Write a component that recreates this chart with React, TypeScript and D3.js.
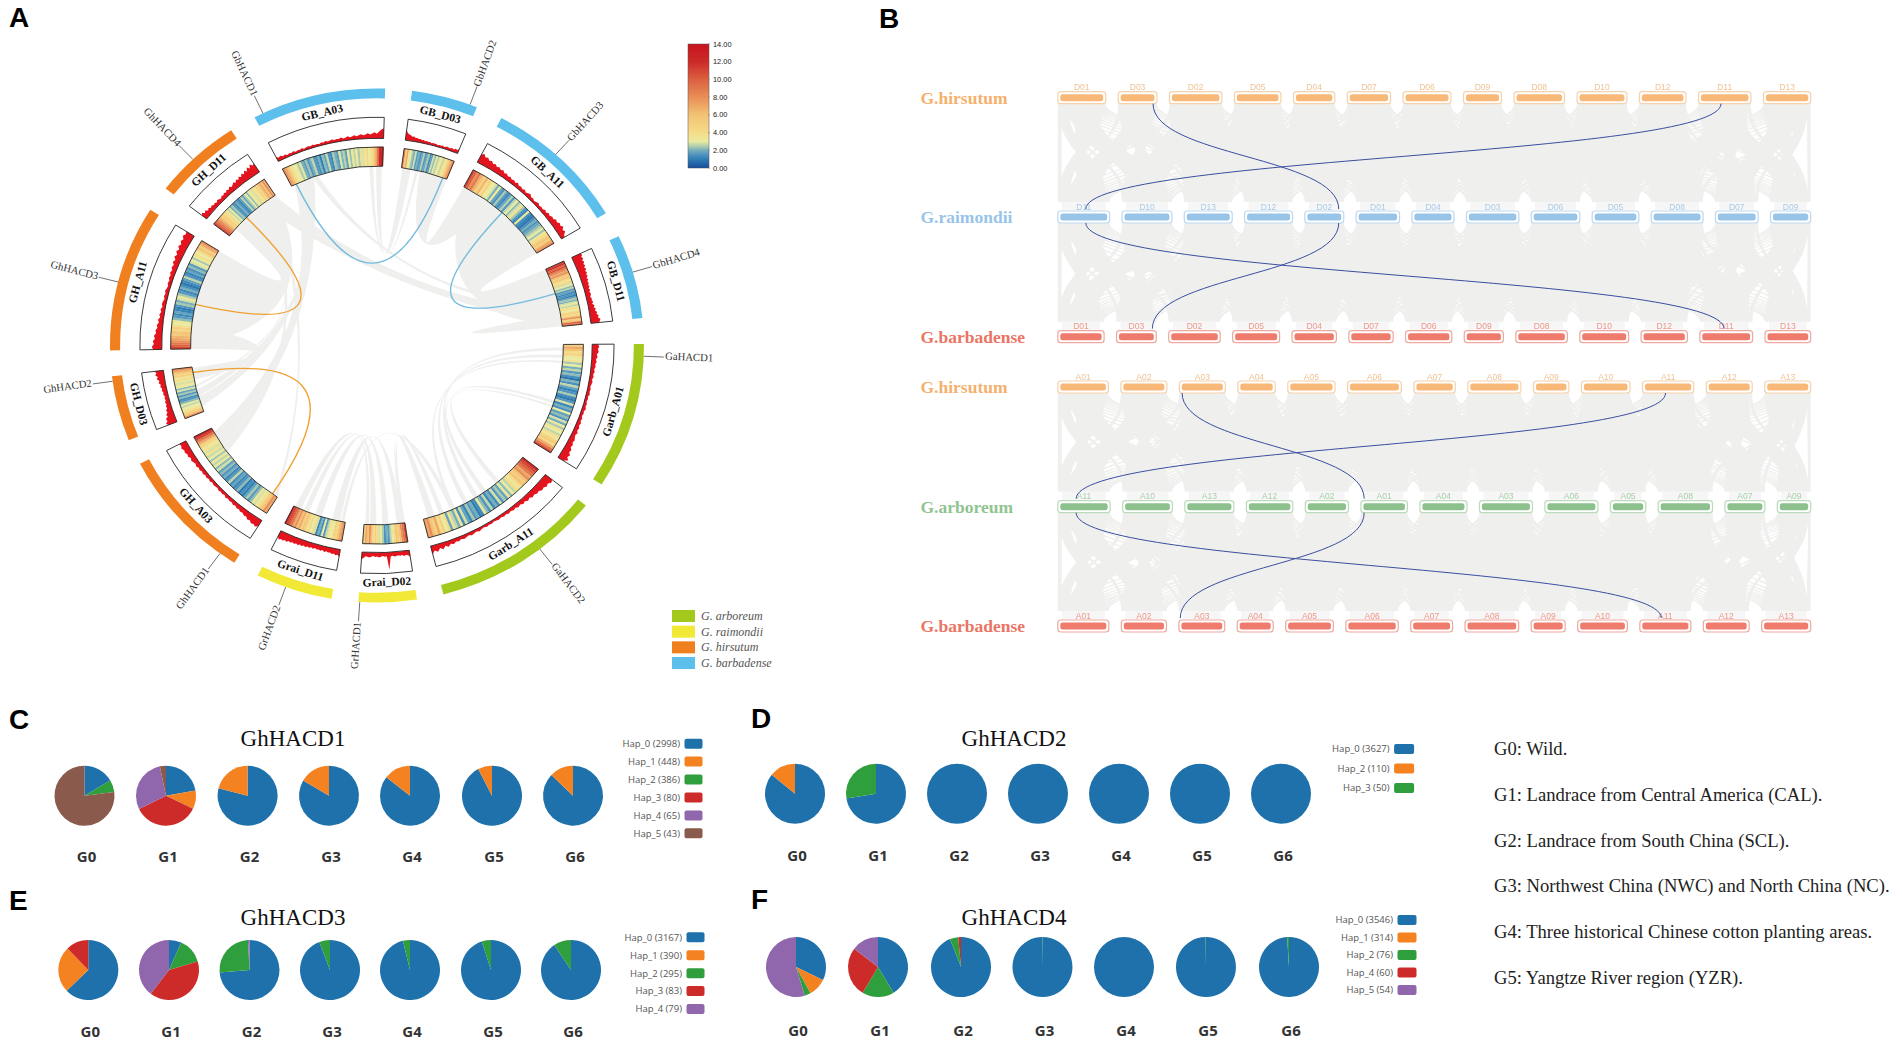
import * as d3 from 'd3';

const W = 1902;
const H = 1047;
const SERIF = '"Liberation Serif", serif';
const SANS = '"Liberation Sans", sans-serif';
const OPEN = '"Open Sans", sans-serif';
const GRAY = '#efefee';

// ---- Panel A data ----
const sectorNames = ['GB_A03', 'GB_D03', 'GB_A11', 'GB_D11', 'Garb_A01', 'Garb_A11', 'Grai_D02', 'Grai_D11', 'GH_A03', 'GH_D03', 'GH_A11', 'GH_D11'];
const sectorLengths = [29, 14.4, 31.2, 19, 33, 37, 12.6, 16.7, 30.2, 14.7, 32.9, 19.2];
const sectorSpecies = ['bar', 'bar', 'bar', 'bar', 'arb', 'arb', 'rai', 'rai', 'hir', 'hir', 'hir', 'hir'];
const speciesColor: Record<string, string> = { arb: '#a3c91c', rai: '#f1e936', hir: '#f0801f', bar: '#5cbfec' };
const legendSpecies = ['G. arboreum', 'G. raimondii', 'G. hirsutum', 'G. barbadense'];
const legendKeys = ['arb', 'rai', 'hir', 'bar'];

const heatValues: Record<string, number[]> = {
  GB_A03: [8, 7, 6, 4.5, 3.6, 3, 3.4, 2.4, 2.9, 2, 1.7, 2.3, 1.5, 2, 2.6, 1.6, 1.4, 2, 1, 2.2, 1.8, 2.7, 1.5, 1.2, 2.4, 2, 1.6, 2.9, 2.1, 2.5, 1.7, 3.1, 2.3, 3.5, 2.6, 3.2, 2.4, 3.9, 2.8, 3.4, 4.5, 3.2, 4, 5, 6.5, 9, 12, 13],
  GB_D03: [9, 5, 7, 3.5, 3, 2.4, 2, 2.8, 1.6, 2, 1.4, 1.8, 2.5, 1.5, 1.9, 2.4, 1.3, 1.7, 2.8, 2.2, 3.2, 2.5, 3.6, 3, 2.6, 4, 3.4, 4.6, 6, 7, 8],
  GB_A11: [11, 10, 8, 9, 7, 6, 5, 6.5, 4, 5, 3.4, 3, 2.8, 2, 3.2, 1.8, 1.4, 2.4, 1.6, 1.2, 1.8, 2.5, 1.5, 2.6, 3, 2.2, 2.8, 3.6, 2.4, 1.6, 1.2, 3.2, 1.4, 1, 0.8, 1.4, 2, 1.5, 1.8, 2.2, 2.6, 3, 2.3, 3.5, 4, 5, 6, 5, 7, 8],
  GB_D11: [11, 12, 10, 11, 9, 8, 7, 8, 6, 5, 6, 4.5, 3.5, 5, 2.8, 3.2, 2.2, 2.6, 1.6, 1.8, 1.2, 1.5, 1, 1.8, 2.4, 2, 2.8, 3.2, 2.6, 3.6, 4, 3, 4.5, 5, 4, 6, 8, 5, 6, 10, 9],
  Garb_A01: [5, 7, 6, 4, 5, 3.5, 3, 3.6, 2.4, 3, 2, 2.6, 1.6, 2.2, 1.4, 0.8, 2.1, 1.4, 2.6, 1.8, 1.1, 1.5, 2.4, 1.3, 0.9, 1.6, 2.8, 1.2, 2, 1.4, 3, 1.7, 2.2, 1.5, 2.8, 1.9, 3.2, 2.4, 3.6, 3, 2.6, 4, 3.2, 4.6, 5.5, 4.5, 7, 9, 11],
  Garb_A11: [12, 11, 10, 9, 7, 8, 6, 5, 6, 4, 3.4, 4, 2.6, 3, 2.2, 3.2, 1.8, 2.4, 1.6, 2.8, 1.4, 2, 1.2, 2.6, 1.5, 2.2, 3.2, 1.3, 1, 2, 1.6, 2.4, 1.2, 1.8, 2.8, 1.4, 3.4, 2, 2.6, 3.6, 1.8, 4, 3, 5, 4, 7, 5, 6, 8, 7],
  Grai_D02: [11, 9, 8, 6, 5, 6, 4, 3.2, 2.5, 1.6, 2, 1.4, 2.4, 3.2, 2.8, 4, 5, 4, 6, 8, 6, 7, 5],
  Grai_D11: [8, 7, 6, 4.5, 5, 3.5, 3, 3.6, 2.6, 1.6, 3, 1.4, 2, 1.2, 2.8, 4, 3, 4.5, 3.6, 5, 6, 5, 7, 6, 8, 7, 9, 10, 11, 12],
  GH_A03: [7, 8, 6, 5, 4, 3.2, 2.8, 3.4, 2.2, 1.6, 2.4, 1.8, 1, 1.4, 0.9, 2.2, 1.5, 1.2, 1.8, 1.4, 2.6, 1.6, 1.2, 2, 1.5, 2.2, 1.7, 2.8, 2.2, 3.2, 2.6, 3.4, 2.4, 3, 2.7, 3.6, 2.8, 3.8, 3.2, 4.5, 5, 7, 9, 11, 12],
  GH_D03: [8, 6, 5, 4, 3.4, 3, 2.6, 3, 2.2, 1.6, 1.3, 2.2, 1.5, 2.4, 1.8, 2.8, 2.2, 3, 3.5, 2.8, 3.2, 4, 3.5, 5, 4.5, 6, 7, 8],
  GH_A11: [11, 10, 9, 8, 7, 6.5, 5.5, 6, 4.5, 5, 3.8, 3, 3.4, 2.2, 1.6, 1.2, 1.8, 1.1, 0.9, 1.5, 2.4, 2, 2.8, 3.2, 2.4, 1.6, 1.2, 2, 1.4, 0.8, 1.2, 1.7, 2.6, 1.5, 1.1, 1.8, 1.4, 2.2, 1.6, 2.8, 3, 2.4, 3.4, 4, 3, 4.5, 6, 5, 7, 8],
  GH_D11: [11, 10, 9, 8, 7, 6, 5, 5.5, 4, 4.5, 3.2, 2.6, 3, 2, 2.4, 1.6, 1.3, 2, 1.5, 1.1, 1.7, 2.6, 1.8, 2.4, 3, 2.2, 3.2, 3.6, 2.8, 4, 3.4, 5, 4.5, 6, 7, 6, 8, 7],
};

// density track, percent of the box height
const histValues: Record<string, number[]> = {
  GB_A03: [32, 22, 28, 18, 24, 14, 20, 16, 22, 13, 18, 15, 20, 12, 17, 19, 14, 21, 15, 18, 13, 20, 16, 22, 15, 19, 24, 17, 21, 18, 25, 16, 20, 27, 19, 23, 30, 21, 26, 33, 24, 29, 36, 28, 34, 42, 32, 48, 62, 70],
  GB_D03: [70, 52, 42, 38, 30, 34, 26, 28, 22, 24, 18, 22, 16, 20, 15, 18, 12, 17, 14, 16, 11, 15, 13, 18, 12, 16, 20, 15, 18, 22, 16, 26, 20, 30],
  GB_A11: [60, 72, 55, 62, 48, 56, 42, 50, 38, 46, 34, 42, 30, 36, 26, 34, 24, 30, 22, 32, 20, 26, 18, 28, 16, 24, 30, 18, 22, 14, 20, 26, 16, 22, 18, 28, 20, 32, 24, 36, 30, 44, 36, 50, 42, 55, 38, 48, 30, 24],
  GB_D11: [62, 70, 58, 66, 54, 64, 52, 60, 48, 58, 46, 54, 44, 50, 38, 46, 36, 42, 34, 40, 30, 38, 28, 36, 32, 26, 34, 30, 38, 28, 42, 34, 46, 38, 52, 44, 58, 50, 66, 60, 55],
  Garb_A01: [40, 46, 38, 44, 32, 38, 28, 34, 26, 30, 22, 28, 20, 26, 18, 24, 20, 16, 22, 18, 24, 16, 20, 15, 22, 18, 26, 17, 22, 16, 24, 20, 28, 22, 30, 24, 34, 26, 30, 38, 32, 42, 36, 50, 44, 60, 50, 68, 40],
  Garb_A11: [58, 66, 52, 60, 48, 54, 40, 46, 36, 42, 30, 38, 26, 34, 22, 30, 20, 26, 18, 24, 16, 22, 14, 20, 16, 12, 18, 14, 20, 12, 16, 22, 14, 18, 24, 16, 20, 26, 18, 28, 22, 32, 24, 38, 26, 44, 30, 50, 36, 58],
  Grai_D02: [45, 32, 28, 34, 26, 30, 24, 28, 32, 25, 30, 120, 26, 30, 24, 28, 33, 26, 30, 24, 28, 34, 30, 26, 40, 48],
  Grai_D11: [52, 38, 44, 34, 40, 32, 36, 30, 38, 28, 36, 30, 34, 28, 36, 30, 38, 32, 40, 34, 42, 36, 44, 38, 46, 40, 48, 42, 52, 46, 56, 50, 60, 42],
  GH_A03: [46, 60, 50, 56, 42, 48, 36, 40, 30, 34, 26, 30, 22, 28, 20, 24, 18, 26, 16, 22, 18, 24, 16, 20, 22, 16, 24, 18, 26, 20, 28, 22, 30, 24, 34, 26, 32, 38, 30, 42, 36, 46, 40, 52, 44, 48],
  GH_D03: [60, 72, 56, 62, 44, 50, 36, 42, 30, 34, 26, 32, 24, 28, 22, 30, 26, 34, 28, 38, 32, 44, 36, 52, 42, 58, 48, 60],
  GH_A11: [58, 66, 52, 60, 46, 54, 40, 46, 34, 40, 28, 36, 24, 32, 22, 30, 20, 28, 24, 18, 26, 20, 28, 22, 18, 26, 20, 30, 24, 34, 26, 38, 30, 44, 34, 50, 38, 54, 42, 58, 46, 60, 50, 66, 54, 60],
  GH_D11: [38, 50, 34, 44, 28, 38, 26, 34, 24, 30, 22, 32, 26, 20, 30, 24, 34, 26, 38, 28, 42, 30, 36, 46, 34, 50, 38, 54, 42, 60, 46, 66, 50, 74, 56, 80, 62, 70],
};

type Link = [string, number, number, string, number, number];

// synteny ribbons: sector, from, to, sector, from, to (fractions along each sector)
const wideLinks: Link[] = [
  ['GB_A11', 0.03, 1, 'GB_D11', 0, 0.98],
  ['GH_A11', 0.02, 1, 'GH_D11', 0.15, 1],
  ['GH_D03', 0.72, 0.98, 'GH_A11', 0, 0.22],
  ['GB_D03', 0.4, 1, 'GB_A11', 0, 0.3],
];
const aroundLinks: Link[] = [
  ['GH_A03', 0.78, 0.95, 'GB_A03', 0.04, 0.26],
  ['GH_D03', 0.12, 0.32, 'GB_A03', 0.1, 0.2],
  ['GH_A03', 0, 0.03, 'GH_D11', 0.9, 1],
  ['GH_A03', 0.7, 0.78, 'GH_D11', 0.7, 0.8],
  ['GH_D03', 0.35, 0.5, 'GB_A03', 0.2, 0.25],
  ['GH_D11', 0.85, 0.99, 'GB_D11', 0.78, 0.92],
  ['GH_D11', 0.7, 0.85, 'GB_D11', 0.9, 1],
  ['GB_A03', 0.24, 0.3, 'GB_D11', 0.6, 0.7],
  ['GH_D03', 0.3, 0.34, 'GH_D11', 0.9, 0.95],
  ['GH_D03', 0.55, 0.6, 'GB_A03', 0.2, 0.23],
];
const narrowLinks: Link[] = [
  ['GB_A03', 0.93, 0.99, 'GB_D03', 0.02, 0.2],
  ['GB_A03', 0.86, 0.9, 'GB_D03', 0.3, 0.36],
  ['Grai_D02', 0.05, 0.2, 'Grai_D11', 0.1, 0.25],
  ['Grai_D02', 0.4, 0.55, 'Grai_D11', 0.45, 0.58],
  ['Grai_D02', 0.7, 0.85, 'Grai_D11', 0.7, 0.8],
  ['Grai_D02', 0.88, 0.97, 'Grai_D11', 0.85, 0.97],
  ['Garb_A01', 0.03, 0.06, 'Garb_A11', 0.5, 0.54],
  ['Garb_A01', 0.1, 0.13, 'Garb_A11', 0.6, 0.64],
  ['Garb_A01', 0.16, 0.18, 'Garb_A11', 0.72, 0.75],
  ['Garb_A01', 0.55, 0.58, 'Garb_A11', 0.28, 0.32],
  ['Garb_A01', 0.6, 0.62, 'Garb_A11', 0.42, 0.46],
  ['Garb_A11', 0.82, 0.86, 'Grai_D02', 0, 0.06],
  ['Garb_A11', 0.9, 0.96, 'Grai_D02', 0.02, 0.1],
  ['Garb_A11', 0.72, 0.76, 'Grai_D11', 0.02, 0.08],
  ['GB_D11', 0.8, 0.9, 'GB_D11', 0.9, 1],
];

// highlighted gene pairs: sector, position, sector, position, colour group
const geneLinks: [string, number, string, number, string][] = [
  ['GB_A03', 0.055, 'GB_D03', 0.91, 'bar'],
  ['GB_A11', 0.46, 'GB_D11', 0.44, 'bar'],
  ['GH_A11', 0.435, 'GH_D11', 0.41, 'hir'],
  ['GH_A03', 0.06, 'GH_D03', 0.88, 'hir'],
];
const geneLinkColor: Record<string, string> = { bar: '#74bbdd', hir: '#f0a030' };

const geneNames = ['GbHACD1', 'GbHACD2', 'GbHACD3', 'GbHACD4', 'GaHACD1', 'GaHACD2', 'GrHACD1', 'GrHACD2', 'GhHACD1', 'GhHACD2', 'GhHACD3', 'GhHACD4'];
const geneAngles = [-25.3, 20.4, 42, 73.4, 92.4, 142.4, 183.7, 200, 216, 262, 284.3, 316.4];

const colorStops = [0, 1, 1.5, 2, 2.5, 3, 4, 6, 8, 10, 12, 14];
const colorRange = ['#184a9c', '#2f7fb5', '#4f93be', '#76aebb', '#b4d0ac', '#e9eba0', '#f5dc88', '#f3c274', '#e88e58', '#dc6040', '#cc2a28', '#c8141e'];
const colorTicks = [0, 2, 4, 6, 8, 10, 12, 14];

// ---- Panel B data ----
const namesDHir = ['D01', 'D03', 'D02', 'D05', 'D04', 'D07', 'D06', 'D09', 'D08', 'D10', 'D12', 'D11', 'D13'];
const lensDHir = [73, 59, 80, 71, 63, 66, 73, 58, 77, 76, 71, 80, 72];
const namesDRai = ['D11', 'D10', 'D13', 'D12', 'D02', 'D01', 'D04', 'D03', 'D06', 'D05', 'D08', 'D07', 'D09'];
const lensDRai = [80, 77, 74, 74, 60, 67, 65, 81, 75, 72, 80, 66, 62];
const namesDBar = ['D01', 'D03', 'D02', 'D05', 'D04', 'D07', 'D06', 'D09', 'D08', 'D10', 'D12', 'D11', 'D13'];
const lensDBar = [71, 61, 79, 72, 68, 68, 71, 60, 79, 75, 71, 81, 70];
const namesAHir = ['A01', 'A02', 'A03', 'A04', 'A05', 'A06', 'A07', 'A08', 'A09', 'A10', 'A11', 'A12', 'A13'];
const lensAHir = [77, 70, 70, 57, 72, 82, 63, 81, 54, 74, 78, 70, 70];
const namesAArb = ['A11', 'A10', 'A13', 'A12', 'A02', 'A01', 'A04', 'A03', 'A06', 'A05', 'A08', 'A07', 'A09'];
const lensAArb = [80, 76, 75, 71, 66, 71, 72, 81, 81, 54, 83, 61, 51];
const namesABar = ['A01', 'A02', 'A03', 'A04', 'A05', 'A06', 'A07', 'A08', 'A09', 'A10', 'A11', 'A12', 'A13'];
const lensABar = [78, 69, 70, 55, 73, 80, 64, 82, 52, 76, 78, 70, 75];

const rowSpecies = ['G.hirsutum', 'G.raimondii', 'G.barbadense', 'G.hirsutum', 'G.arboreum', 'G.barbadense'];
const rowFill = ['#f8b878', '#98c4e8', '#ee7b6c', '#f8b878', '#8cc08c', '#ee7b6c'];
const rowEdge = ['#f6d2ac', '#bcd8f0', '#f0a89e', '#f6d2ac', '#bcdabc', '#f0a89e'];
const rowText = ['#f4b06c', '#98c4e8', '#ea7565', '#f4b06c', '#90c490', '#ea7565'];
const rowNames = [namesDHir, namesDRai, namesDBar, namesAHir, namesAArb, namesABar];
const rowLens = [lensDHir, lensDRai, lensDBar, lensAHir, lensAArb, lensABar];
const rowY = [97.7, 217, 336.7, 387, 506.7, 626];
const bandPairs = [[0, 1], [1, 2], [3, 4], [4, 5]];
// gene links in panel B: row, chromosome, position in it, row, chromosome, position in it
const pairLinks: [number, string, number, number, string, number][] = [
  [0, 'D03', 0.9, 1, 'D02', 0.87],
  [0, 'D11', 0.43, 1, 'D11', 0.54],
  [1, 'D11', 0.54, 2, 'D11', 0.46],
  [1, 'D02', 0.87, 2, 'D03', 0.9],
  [3, 'A03', 0.06, 4, 'A01', 0.07],
  [3, 'A11', 0.45, 4, 'A11', 0.35],
  [4, 'A11', 0.35, 5, 'A11', 0.42],
  [4, 'A01', 0.07, 5, 'A03', 0.03],
];

// ---- Panels C-F data ----
const groups = ['G0', 'G1', 'G2', 'G3', 'G4', 'G5', 'G6'];
const hapColor: Record<string, string> = { Hap_0: '#1f71ac', Hap_1: '#f58220', Hap_2: '#2f9e3c', Hap_3: '#cd2a2a', Hap_4: '#9066ac', Hap_5: '#8a5a4c' };

const hapsC = ['Hap_0', 'Hap_1', 'Hap_2', 'Hap_3', 'Hap_4', 'Hap_5'];
const countsC = [2998, 448, 386, 80, 65, 43];
const piesC = [
  [0.165, 0, 0.065, 0, 0, 0.77],
  [0.222, 0.1, 0, 0.355, 0.29, 0.033],
  [0.79, 0.21, 0, 0, 0, 0],
  [0.835, 0.165, 0, 0, 0, 0],
  [0.855, 0.145, 0, 0, 0, 0],
  [0.924, 0.076, 0, 0, 0, 0],
  [0.872, 0.128, 0, 0, 0, 0],
];
const hapsD = ['Hap_0', 'Hap_2', 'Hap_3'];
const countsD = [3627, 110, 50];
const hapKeysD = ['Hap_0', 'Hap_1', 'Hap_2'];
const piesD = [[0.858, 0.142, 0], [0.725, 0, 0.275], [1, 0, 0], [1, 0, 0], [1, 0, 0], [1, 0, 0], [1, 0, 0]];
const hapsE = ['Hap_0', 'Hap_1', 'Hap_2', 'Hap_3', 'Hap_4'];
const countsE = [3167, 390, 295, 83, 79];
const piesE = [
  [0.628, 0.25, 0, 0.122, 0],
  [0.067, 0, 0.137, 0.4, 0.396],
  [0.737, 0, 0.255, 0, 0.008],
  [0.942, 0, 0.058, 0, 0],
  [0.962, 0, 0.038, 0, 0],
  [0.95, 0, 0.05, 0, 0],
  [0.906, 0, 0.094, 0, 0],
];
const hapsF = ['Hap_0', 'Hap_1', 'Hap_2', 'Hap_4', 'Hap_5'];
const countsF = [3546, 314, 76, 60, 54];
const hapKeysF = ['Hap_0', 'Hap_1', 'Hap_2', 'Hap_3', 'Hap_4'];
const piesF = [
  [0.322, 0.098, 0.033, 0, 0.547],
  [0.413, 0, 0.173, 0.268, 0.146],
  [0.94, 0, 0.045, 0.015, 0],
  [0.998, 0, 0.002, 0, 0],
  [1, 0, 0, 0, 0],
  [0.998, 0, 0.002, 0, 0],
  [0.99, 0, 0.01, 0, 0],
];
const notes = [
  'G0: Wild.',
  'G1: Landrace from Central America (CAL).',
  'G2: Landrace from South China (SCL).',
  'G3: Northwest China (NWC) and North China (NC).',
  'G4: Three historical Chinese cotton planting areas.',
  'G5: Yangtze River region (YZR).',
];

// ---- Panel A geometry ----
const deg = Math.PI / 180;
const CX = 377;
const CY = 345.5;
const RX = 267;
const RY = 257;
const rad = d3.scaleLinear().domain([0, 1]).range([0, RX]);
const PAD = 5.8 * deg;
const heatColor = d3.scaleLinear<string>().domain(colorStops).range(colorRange).clamp(true);

const sectorArcs = d3
  .pie<number>()
  .sort(null)
  .startAngle(-27.3 * deg - PAD / 2)
  .endAngle(-27.3 * deg - PAD / 2 + 2 * Math.PI)
  .padAngle(PAD)(sectorLengths);

const sectors = sectorNames.map((name, i) => ({
  name,
  species: sectorSpecies[i],
  start: sectorArcs[i].startAngle + PAD / 2,
  end: sectorArcs[i].endAngle - PAD / 2,
}));
const sectorByName = new Map(sectors.map((s) => [s.name, s]));
const angleAt = (name: string, f: number) => {
  const s = sectorByName.get(name)!;
  return s.start + f * (s.end - s.start);
};
const ptAt = (theta: number, r: number): [number, number] => [r * Math.sin(theta), -r * Math.cos(theta)];
const screenAt = (theta: number, n: number): [number, number] => [CX + n * RX * Math.sin(theta), CY - n * RY * Math.cos(theta)];

const INNER = rad(0.698);
const arc = d3.arc();

function ribbon(l: Link, bend: number) {
  const a0 = angleAt(l[0], l[1]);
  const a1 = angleAt(l[0], l[2]);
  const b0 = angleAt(l[3], l[4]);
  const b1 = angleAt(l[3], l[5]);
  const aMid = (a0 + a1) / 2;
  const bMid = (b0 + b1) / 2;
  const delta = ((bMid - aMid + 3 * Math.PI) % (2 * Math.PI)) - Math.PI;
  const [cx, cy] = ptAt(aMid + delta / 2, rad(bend));
  const p = d3.path();
  p.moveTo(...ptAt(a0, INNER));
  p.arc(0, 0, INNER, a0 - Math.PI / 2, a1 - Math.PI / 2);
  p.quadraticCurveTo(cx, cy, ...ptAt(b0, INNER));
  p.arc(0, 0, INNER, b0 - Math.PI / 2, b1 - Math.PI / 2);
  p.quadraticCurveTo(cx, cy, ...ptAt(a0, INNER));
  p.closePath();
  return p.toString();
}

function CircosPanel() {
  const histR = d3.scaleLinear().domain([0, 145]).range([rad(0.806), rad(0.888)]);
  return (
    <g>
      <g transform={`translate(${CX},${CY}) scale(1,${RY / RX})`}>
        {wideLinks.map((l, i) => <path key={i} d={ribbon(l, 0.19)} fill={GRAY} />)}
        {aroundLinks.map((l, i) => <path key={i} d={ribbon(l, 0.2)} fill={GRAY} />)}
        {narrowLinks.map((l, i) => <path key={i} d={ribbon(l, 0.02)} fill={GRAY} />)}
        {geneLinks.map((g, i) => {
          const p = d3.path();
          p.moveTo(...ptAt(angleAt(g[0], g[1]), INNER));
          p.quadraticCurveTo(0, 0, ...ptAt(angleAt(g[2], g[3]), INNER));
          return <path key={i} d={p.toString()} fill="none" stroke={geneLinkColor[g[4]]} strokeWidth={1.4} />;
        })}
        {sectors.map((s) => {
          const heat = heatValues[s.name];
          const hist = histValues[s.name];
          const heatAngle = d3.scaleLinear().domain([0, heat.length]).range([s.start, s.end]);
          const histAngle = d3.scaleLinear().domain([0, hist.length - 1]).range([s.start, s.end]);
          const area = d3
            .areaRadial<number>()
            .angle((_, i) => histAngle(i))
            .innerRadius(histR(0))
            .outerRadius((d) => histR(d));
          const box = (r0: number, r1: number) => arc({ innerRadius: r0, outerRadius: r1, startAngle: s.start, endAngle: s.end }) as string;
          return (
            <g key={s.name}>
              <path d={box(rad(0.962), rad(1))} fill={speciesColor[s.species]} />
              <path d={area(hist) as string} fill="#e3141e" />
              <path d={box(rad(0.806), rad(0.888))} fill="none" stroke="#222" strokeWidth={0.9} />
              {heat.map((v, i) => (
                <path
                  key={i}
                  d={arc({ innerRadius: rad(0.698), outerRadius: rad(0.773), startAngle: heatAngle(i), endAngle: heatAngle(i + 1) + 0.001 }) as string}
                  fill={heatColor(v)}
                />
              ))}
              <path d={box(rad(0.698), rad(0.773))} fill="none" stroke="#222" strokeWidth={0.9} />
            </g>
          );
        })}
      </g>
      {sectors.map((s) => {
        const mid = (s.start + s.end) / 2;
        const [x, y] = screenAt(mid, 0.925);
        const d = mid / deg;
        const rot = d > 90 && d < 270 ? d - 180 : d;
        return (
          <text key={s.name} transform={`translate(${x},${y}) rotate(${rot})`} textAnchor="middle" dominantBaseline="middle" fontFamily={SERIF} fontWeight="bold" fontSize={11.5} fill="#111">
            {s.name}
          </text>
        );
      })}
      {geneNames.map((g, i) => {
        const t = geneAngles[i] * deg;
        const [x0, y0] = screenAt(t, 1);
        const [x1, y1] = screenAt(t, 1.075);
        const [x, y] = screenAt(t, 1.17);
        const d = ((geneAngles[i] % 360) + 360) % 360;
        const rot = d < 180 ? d - 90 : d + 90;
        return (
          <g key={g}>
            <line x1={x0} y1={y0} x2={x1} y2={y1} stroke="#333" strokeWidth={0.7} />
            <text transform={`translate(${x},${y}) rotate(${rot})`} textAnchor="middle" dominantBaseline="middle" fontFamily={SERIF} fontSize={10.7} fill="#333">
              {g}
            </text>
          </g>
        );
      })}
      {legendSpecies.map((name, i) => {
        const y = d3.scaleLinear().domain([0, 3]).range([616, 663])(i);
        return (
          <g key={name}>
            <rect x={672} y={y - 6} width={23} height={12} fill={speciesColor[legendKeys[i]]} />
            <text x={701} y={y + 4} fontFamily={SERIF} fontStyle="italic" fontSize={12} fill="#555">{name}</text>
          </g>
        );
      })}
      <ColorBar />
    </g>
  );
}

function ColorBar() {
  const y = d3.scaleLinear().domain([0, 14]).range([168, 44]);
  return (
    <g>
      <defs>
        <linearGradient id="heatGrad" x1="0" y1="1" x2="0" y2="0">
          {colorStops.map((s, i) => <stop key={s} offset={s / 14} stopColor={colorRange[i]} />)}
        </linearGradient>
      </defs>
      <rect x={688} y={44} width={21} height={124} fill="url(#heatGrad)" stroke="#555" strokeWidth={0.5} />
      {colorTicks.map((t) => (
        <g key={t}>
          <line x1={708} x2={710} y1={y(t)} y2={y(t)} stroke="#888" strokeWidth={0.6} />
          <text x={713} y={y(t) + 2.6} fontFamily={SANS} fontSize={7.4} fill="#222">{t.toFixed(2)}</text>
        </g>
      ))}
    </g>
  );
}

// ---- Panel B geometry ----
const BX0 = 1057.8;
const BX1 = 1810.7;
const BAR_GAP = 19;

const layoutRow = (lens: number[]) => {
  const total = d3.sum(lens) + BAR_GAP * (lens.length - 1);
  const x = d3.scaleLinear().domain([0, total]).range([BX0, BX1]);
  let at = 0;
  return lens.map((len) => {
    const item = { x0: x(at), x1: x(at + len) };
    at += len + BAR_GAP;
    return item;
  });
};
const rowLayout = rowLens.map(layoutRow);

function band(ax0: number, ax1: number, bx0: number, bx1: number, y0: number, y1: number) {
  const ym = (y0 + y1) / 2;
  const p = d3.path();
  p.moveTo(ax0, y0);
  p.bezierCurveTo(ax0, ym, bx0, ym, bx0, y1);
  p.lineTo(bx1, y1);
  p.bezierCurveTo(bx1, ym, ax1, ym, ax1, y0);
  p.closePath();
  return p.toString();
}

function SyntenyPanel() {
  const n = 13;
  const linkV = d3.linkVertical<{ s: [number, number]; t: [number, number] }, [number, number]>().source((d) => d.s).target((d) => d.t);
  return (
    <g>
      {bandPairs.map(([ra, rb]) => {
        const y0 = rowY[ra] + 6;
        const y1 = rowY[rb] - 15;
        const paths: string[] = [];
        rowLayout[ra].forEach((a, i) => {
          const wa = (a.x1 - a.x0) / n;
          rowLayout[rb].forEach((b, j) => {
            const wb = (b.x1 - b.x0) / n;
            const ax = a.x0 + j * wa;
            const bx = b.x0 + i * wb;
            paths.push(band(ax, ax + wa, bx, bx + wb, y0, y1));
          });
        });
        // the middle chromosomes carry most of the blocks, so their bundles merge into one grey field
        d3.range(2, 11).forEach((i) => {
          const a = rowLayout[ra][i];
          const b = rowLayout[rb][i];
          paths.push(band(a.x0, a.x1, b.x0, b.x1, y0, y1));
          if (i < 10) {
            const a2 = rowLayout[ra][i + 1];
            const b2 = rowLayout[rb][i + 1];
            paths.push(band(a.x0, a.x1, b2.x0, b2.x1, y0, y1));
            paths.push(band(a2.x0, a2.x1, b.x0, b.x1, y0, y1));
          }
        });
        // towards the edges the bundles thin out: narrower blocks, so streaks of white stay open
        [0, 1, 11, 12].forEach((i) => {
          const a = rowLayout[ra][i];
          const b = rowLayout[rb][i];
          const wa = (a.x1 - a.x0) * 0.22;
          const wb = (b.x1 - b.x0) * 0.22;
          d3.range(0, 3).forEach((k) => {
            const ax = a.x0 + k * 0.36 * (a.x1 - a.x0);
            const bx = b.x0 + (2 - k) * 0.36 * (b.x1 - b.x0);
            paths.push(band(ax, ax + wa, bx, bx + wb, y0, y1));
          });
          const inward = i < 6 ? i + 1 : i - 1;
          const c = rowLayout[rb][inward];
          const d = rowLayout[ra][inward];
          paths.push(band(a.x0 + wa, a.x1 - wa, c.x0 + wb, c.x1 - wb, y0, y1));
          paths.push(band(d.x0 + wa, d.x1 - wa, b.x0 + wb, b.x1 - wb, y0, y1));
        });
        return <path key={`${ra}-${rb}`} d={paths.join('')} fill={GRAY} fillRule="nonzero" />;
      })}
      {rowNames.map((names, r) => (
        <g key={r}>
          <text x={920.5} y={rowY[r] + 6} fontFamily={SERIF} fontWeight="bold" fontSize={17.5} fill={rowText[r]}>{rowSpecies[r]}</text>
          {names.map((name, i) => {
            const b = rowLayout[r][i];
            const mid = (b.x0 + b.x1) / 2;
            return (
              <g key={name}>
                <rect x={b.x0 + 4} y={rowY[r] - 15} width={b.x1 - b.x0 - 8} height={8} fill={r % 3 === 0 ? '#fff' : '#f6f6f6'} />
                <text x={mid} y={rowY[r] - 7.5} textAnchor="middle" fontFamily={SANS} fontSize={8.5} fill={rowEdge[r]} style={{ filter: 'saturate(1.3) brightness(0.93)' }}>{name}</text>
                <rect x={b.x0} y={rowY[r] - 6} width={b.x1 - b.x0} height={12} rx={3} fill="#fff" stroke={rowEdge[r]} strokeWidth={1.2} />
                <rect x={b.x0 + 2.5} y={rowY[r] - 3.5} width={b.x1 - b.x0 - 5} height={7} rx={2.5} fill={rowFill[r]} />
              </g>
            );
          })}
        </g>
      ))}
      {pairLinks.map((l, i) => {
        const a = rowLayout[l[0]][rowNames[l[0]].indexOf(l[1])];
        const b = rowLayout[l[3]][rowNames[l[3]].indexOf(l[4])];
        const d = linkV({
          s: [a.x0 + l[2] * (a.x1 - a.x0), rowY[l[0]] + 6],
          t: [b.x0 + l[5] * (b.x1 - b.x0), rowY[l[3]] - 8],
        });
        return <path key={i} d={d as string} fill="none" stroke="#3a4f9f" strokeWidth={1} />;
      })}
    </g>
  );
}

// ---- Pie panels ----
type PieProps = {
  title: string;
  titleX: number;
  titleY: number;
  cxs: number[];
  cy: number;
  labelY: number;
  values: number[][];
  keys: string[];
  haps: string[];
  counts: number[];
  legendRight: number;
  legendYs: [number, number];
  swatch: number;
};

function PiePanel({ title, titleX, titleY, cxs, cy, labelY, values, keys, haps, counts, legendRight, legendYs, swatch }: PieProps) {
  const pie = d3.pie<number>().sort(null);
  const pieArc = d3.arc<d3.PieArcDatum<number>>().innerRadius(0).outerRadius(30);
  const ly = d3.scaleLinear().domain([0, haps.length - 1]).range(legendYs);
  return (
    <g>
      <text x={titleX} y={titleY} textAnchor="middle" fontFamily={SERIF} fontSize={23} fill="#111">{title}</text>
      {groups.map((g, i) => (
        <g key={g}>
          <g transform={`translate(${cxs[i]},${cy})`}>
            {pie(values[i]).map((a, j) => <path key={j} d={pieArc(a) as string} fill={hapColor[keys[j]]} />)}
          </g>
          <text x={cxs[i] + 2} y={labelY + 5.5} textAnchor="middle" fontFamily={OPEN} fontWeight="bold" fontSize={15} fill="#333">{g}</text>
        </g>
      ))}
      {haps.map((h, i) => (
        <g key={h}>
          <text x={legendRight} y={ly(i) + 3.4} textAnchor="end" fontFamily={OPEN} fontSize={9.5} fill="#555">{`${h} (${counts[i]})`}</text>
          <rect x={legendRight + 4.5} y={ly(i) - 5} width={swatch} height={10} rx={2} fill={hapColor[keys[i]]} />
        </g>
      ))}
    </g>
  );
}

const panelLetters: [string, number, number][] = [['A', 9, 27], ['B', 879, 28], ['C', 9, 729], ['D', 751, 728], ['E', 9, 910], ['F', 751, 909]];

export default function App() {
  return (
    <svg width={W} height={H} viewBox={`0 0 ${W} ${H}`} style={{ position: 'absolute', left: 0, top: 0, display: 'block', background: '#fff' }}>
      {panelLetters.map(([t, x, y]) => (
        <text key={t} x={x} y={y} fontFamily={SANS} fontWeight="bold" fontSize={28} fill="#000">{t}</text>
      ))}
      <CircosPanel />
      <SyntenyPanel />
      <PiePanel title="GhHACD1" titleX={293} titleY={746} cxs={[84.5, 166, 247.6, 329, 410, 492, 573]} cy={795.7} labelY={856.7} values={piesC} keys={hapsC} haps={hapsC} counts={countsC} legendRight={680} legendYs={[743.7, 833.3]} swatch={18} />
      <PiePanel title="GhHACD3" titleX={293} titleY={925} cxs={[88.3, 169, 249.5, 330, 410, 491, 571]} cy={970} labelY={1031} values={piesE} keys={hapsE} haps={hapsE} counts={countsE} legendRight={682} legendYs={[937.3, 1009]} swatch={18} />
      <PiePanel title="GhHACD2" titleX={1014} titleY={746} cxs={[795, 876, 957, 1038, 1119, 1200, 1281]} cy={793.7} labelY={855} values={piesD} keys={hapKeysD} haps={hapsD} counts={countsD} legendRight={1389.6} legendYs={[749, 788]} swatch={20} />
      <PiePanel title="GhHACD4" titleX={1014} titleY={925} cxs={[796, 878, 961, 1042.5, 1124, 1206, 1289]} cy={967} labelY={1030} values={piesF} keys={hapKeysF} haps={hapsF} counts={countsF} legendRight={1393} legendYs={[920, 990]} swatch={19} />
      {notes.map((t, i) => (
        <text key={t} x={1494} y={d3.scaleLinear().domain([0, 5]).range([755, 984])(i)} fontFamily={SERIF} fontSize={18.6} fill="#222">{t}</text>
      ))}
    </svg>
  );
}
